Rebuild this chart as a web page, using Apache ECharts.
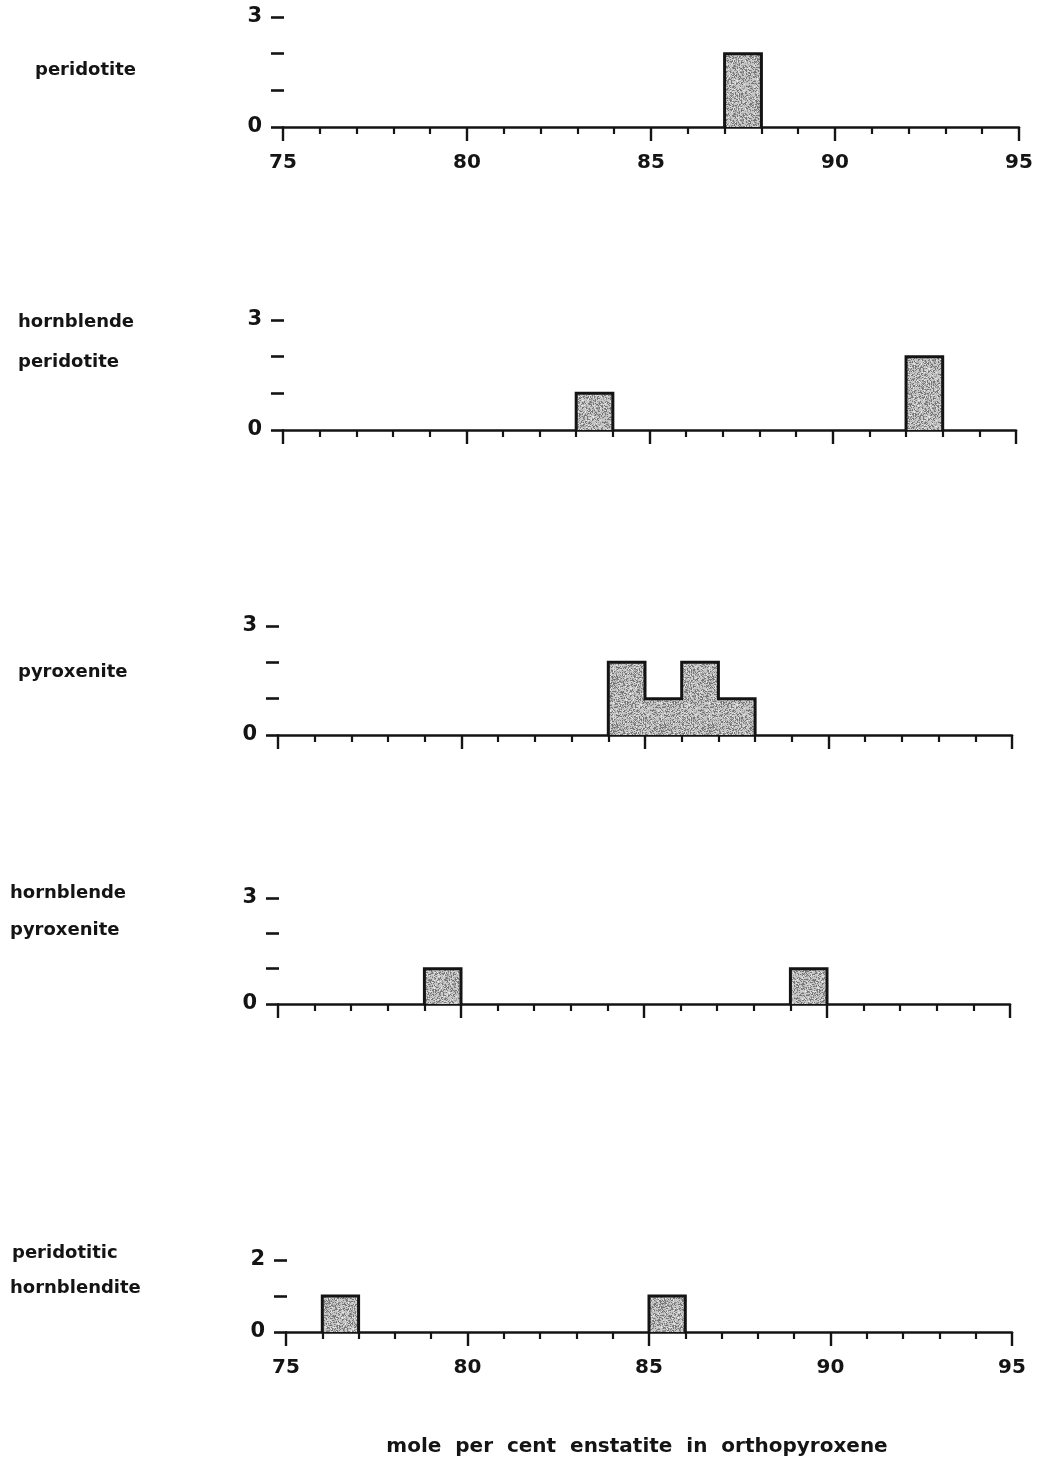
<!DOCTYPE html>
<html>
<head>
<meta charset="utf-8">
<script src="https://cdn.jsdelivr.net/npm/echarts@6/dist/echarts.min.js"></script>
<style>
  html, body { margin: 0; padding: 0; background: #ffffff; }
  #chart { width: 1046px; height: 1466px; }
</style>
</head>
<body>
<div id="chart"></div>
<script>
// ---- data ----------------------------------------------------------------
const xMin = 75;
const xMax = 95;
const xTickLabels = [75, 80, 85, 90, 95];

// rock type names, one entry per panel, split into printed lines
const rockTypes = [
  ['peridotite'],
  ['hornblende', 'peridotite'],
  ['pyroxenite'],
  ['hornblende', 'pyroxenite'],
  ['peridotitic', 'hornblendite']
];

// histogram classes: [lower edge of 1 mol% class, number of samples]
const peridotiteBins = [[87, 2]];
const hbPeridotiteBins = [[83, 1], [92, 2]];
const pyroxeniteBins = [[84, 2], [85, 1], [86, 2], [87, 1]];
const hbPyroxeniteBins = [[79, 1], [89, 1]];
const perHornblenditeBins = [[76, 1], [85, 1]];

const countAxisMax = [3, 3, 3, 3, 2];
const axisTitle = 'mole  per  cent  enstatite  in  orthopyroxene';

// ---- layout --------------------------------------------------------------
const allBins = [peridotiteBins, hbPeridotiteBins, pyroxeniteBins, hbPyroxeniteBins, perHornblenditeBins];
const panelBoxes = [
  { left: 283, right: 1019, top: 17,   bottom: 127 },
  { left: 283, right: 1016, top: 320,  bottom: 430 },
  { left: 278, right: 1012, top: 626,  bottom: 735 },
  { left: 278, right: 1010, top: 898,  bottom: 1004 },
  { left: 286, right: 1012, top: 1260, bottom: 1332 }
];
const nameAnchors = [
  [[35, 70]],
  [[18, 322], [18, 362]],
  [[18, 672]],
  [[10, 893], [10, 930]],
  [[12, 1253], [10, 1288]]
];
const showTickLabels = [true, false, false, false, true];

const INK = '#141414';
const FONT = '"DejaVu Sans", "Noto Sans", sans-serif';

// stippled grey fill used inside the histogram bars
function makeStipple() {
  const size = 48;
  const c = document.createElement('canvas');
  c.width = size; c.height = size;
  const g = c.getContext('2d');
  g.fillStyle = '#c6c6c6';
  g.fillRect(0, 0, size, size);
  for (let y = 0; y < size; y++) {
    for (let x = 0; x < size; x++) {
      const h = ((x * 374761393 + y * 668265263) ^ (x * y * 2654435761)) >>> 0;
      const v = (h >>> 13) % 100;
      if (v < 24) { g.fillStyle = '#767676'; g.fillRect(x, y, 1, 1); }
      else if (v < 42) { g.fillStyle = '#a0a0a0'; g.fillRect(x, y, 1, 1); }
      else if (v > 90) { g.fillStyle = '#e6e6e6'; g.fillRect(x, y, 1, 1); }
    }
  }
  return c;
}
const stipple = { image: makeStipple(), repeat: 'repeat' };

// outer contour of contiguous runs of classes, drawn as a stepped line
function contourRuns(bins) {
  const sorted = bins.slice().sort((a, b) => a[0] - b[0]);
  const runs = [];
  let cur = null;
  sorted.forEach(([start, n]) => {
    if (cur && cur.end === start) {
      cur.pts.push([start + 1, n]);
      cur.end = start + 1;
    } else {
      if (cur) runs.push(cur);
      cur = { end: start + 1, pts: [[start, 0], [start + 1, n]] };
    }
  });
  if (cur) runs.push(cur);
  return runs.map(r => { r.pts.push([r.end, 0]); return r.pts; });
}

// ---- option --------------------------------------------------------------
const grids = [], xAxes = [], yAxes = [], series = [], graphics = [];

panelBoxes.forEach((box, i) => {
  const ymax = countAxisMax[i];
  grids.push({ left: box.left, width: box.right - box.left, top: box.top, height: box.bottom - box.top, containLabel: false });

  xAxes.push({
    gridIndex: i, type: 'value', min: xMin, max: xMax, interval: 5,
    axisLine: { show: true, onZero: false, lineStyle: { color: INK, width: 2.5 } },
    axisTick: { show: true, length: 14, lineStyle: { color: INK, width: 2.4 } },
    minorTick: { show: true, splitNumber: 5, length: 7, lineStyle: { color: INK, width: 2.2 } },
    splitLine: { show: false },
    axisLabel: {
      show: showTickLabels[i], margin: 26, color: INK, fontSize: 20, fontWeight: 'bold', fontFamily: FONT,
      formatter: v => (xTickLabels.indexOf(v) >= 0 ? String(v) : '')
    }
  });

  yAxes.push({
    gridIndex: i, type: 'value', min: 0, max: ymax, interval: 1, position: 'left', offset: 12,
    axisLine: { show: false },
    axisTick: { show: true, inside: true, length: 13, lineStyle: { color: INK, width: 2.6 } },
    splitLine: { show: false },
    axisLabel: {
      show: true, margin: 9, color: INK, fontSize: 21, fontWeight: 'bold', fontFamily: FONT,
      formatter: v => (v === 0 || v === ymax ? String(v) : '')
    }
  });

  series.push({
    type: 'custom', xAxisIndex: i, yAxisIndex: i, silent: true,
    data: allBins[i],
    renderItem: (params, api) => {
      const x0 = api.value(0), n = api.value(1);
      const tl = api.coord([x0, n]);
      const br = api.coord([x0 + 1, 0]);
      return {
        type: 'rect',
        shape: { x: tl[0], y: tl[1], width: br[0] - tl[0], height: br[1] - tl[1] },
        style: { fill: stipple }
      };
    },
    z: 2
  });

  contourRuns(allBins[i]).forEach(pts => {
    series.push({
      type: 'line', xAxisIndex: i, yAxisIndex: i, silent: true,
      step: 'start', symbol: 'none', data: pts,
      lineStyle: { color: INK, width: 3, join: 'miter', cap: 'square' },
      z: 3, animation: false
    });
  });

  rockTypes[i].forEach((line, k) => {
    const [lx, ly] = nameAnchors[i][k];
    graphics.push({
      type: 'text', x: lx, y: ly,
      style: { text: line, fill: INK, font: 'bold 18px ' + FONT, textAlign: 'left', textVerticalAlign: 'middle' }
    });
  });
});

graphics.push({
  type: 'text', x: 637, y: 1447,
  style: { text: axisTitle, fill: INK, font: 'bold 20px ' + FONT, textAlign: 'center', textVerticalAlign: 'middle' }
});

const chart = echarts.init(document.getElementById('chart'), null, { renderer: 'canvas' });
chart.setOption({
  animation: false,
  backgroundColor: '#ffffff',
  grid: grids,
  xAxis: xAxes,
  yAxis: yAxes,
  series: series,
  graphic: graphics
});
</script>
</body>
</html>
